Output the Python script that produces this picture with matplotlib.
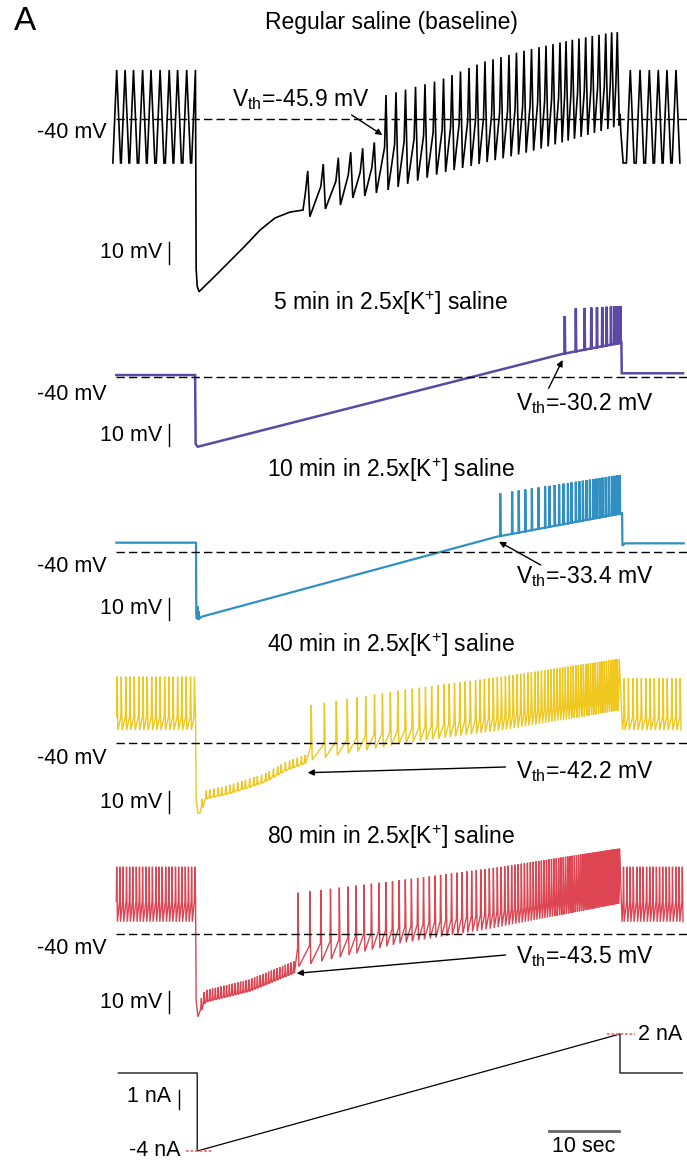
import numpy as np
import matplotlib.pyplot as plt

plt.rcParams['font.family'] = ['Liberation Sans', 'DejaVu Sans']
plt.rcParams['mathtext.fontset'] = 'custom'
plt.rcParams['mathtext.rm'] = 'Liberation Sans'
plt.rcParams['mathtext.it'] = 'Liberation Sans:italic'

W, H = 687, 1162
PX_S = 7.0      # px per second
PX_MV = 2.2     # px per mV
PX_NA = 19.5    # px per nA
X0 = 116        # px of t = 0

# ---------------- trace 1 : regular saline (black) ----------------
t1_pre = [0.1, 1.3, 2.5, 3.8, 5.0, 6.3, 7.6, 8.8, 10.1, 11.35]
t1_pre_pk, t1_pre_tr = -17.7, -60.0
t1_rec_t = [11.45, 11.6, 11.86, 14.14, 16.29, 18.43, 20.57, 22.71, 24.86, 26.71]
t1_rec_v = [-108.0, -116.0, -118.5, -111.4, -104.5, -97.7, -90.5, -85.0, -82.3, -81.4]
t1_osc_t = [27.39, 29.61, 31.76, 33.53, 35.24, 36.9]
t1_osc_pk = [-63.6, -60.5, -57.6, -55.1, -53.3, -50.6]
t1_osc_tr = [-84.4, -80.9, -79.1, -75.9, -75.0, -73.6]
t1_ramp = [38.57, 40.0, 41.36, 42.79, 44.14, 45.5, 46.79, 48.0, 49.21, 50.43,
           51.57, 52.71, 53.86, 55.0, 56.14, 57.21, 58.29, 59.36, 60.43, 61.43,
           62.43, 63.43, 64.29, 65.19, 66.14, 67.1, 68.04, 69.0, 69.96, 70.81, 71.61]
t1_pk_t = [38.57, 46.29, 52.43, 58.71, 65.0, 71.0]
t1_pk_v = [-29.1, -22.3, -14.1, -8.6, -4.1, -0.5]
t1_tr_t = [38.57, 46.29, 58.71, 71.0]
t1_tr_v = [-72.3, -64.5, -55.0, -43.6]
t1_off_t = [71.9, 72.02, 72.1, 72.45]
t1_off_v = [-43.0, -37.7, -45.0, -60.0]
t1_post = [73.47, 74.86, 76.19, 77.47, 78.71, 80.0]

# ---------------- trace 2 : 5 min high K (purple) ----------------
t2_knot_t = [0.05, 11.3, 11.38, 11.69, 63.8]
t2_knot_v = [-39.1, -39.1, -70.5, -71.7, -29.5]
t2_sp = [64.11, 65.69, 66.94, 67.89, 68.71, 69.46, 70.09, 70.71, 71.21, 71.66, 72.05]
t2_pk_t, t2_pk_v = [64.1, 65.7, 72.1], [-12.3, -8.8, -7.7]
t2_base_t, t2_base_v = [63.8, 72.2], [-29.5, -24.4]
t2_off_t, t2_off_v = [72.2, 72.25, 81.0], [-24.4, -38.3, -38.3]

# ---------------- trace 3 : 10 min high K (blue) ----------------
t3_knot_t = [0.05, 11.43, 11.47, 11.55, 11.62, 11.7, 11.8, 11.9, 12.29, 54.39]
t3_knot_v = [-35.9, -35.9, -68.0, -70.6, -64.7, -70.8, -67.0, -70.4, -69.5, -33.2]
t3_sp = [54.89, 56.59, 57.53, 58.47, 59.41, 60.36, 61.3, 61.93, 62.67, 63.3,
         63.93, 64.56, 65.06, 65.69, 66.19, 66.7, 67.2, 67.7, 68.2, 68.64,
         69.09, 69.51, 69.96, 70.4, 70.84, 71.21, 71.59, 71.97]
t3_pk_t, t3_pk_v = [54.9, 72.0], [-13.5, -5.1]
t3_base_t, t3_base_v = [54.39, 72.3], [-33.2, -22.5]
t3_off_t, t3_off_v = [72.3, 72.35, 72.7, 81.1], [-22.5, -37.3, -36.2, -36.2]

# ---------------- trace 4 : 40 min high K (yellow) ----------------
t4_pre = [0.15, 0.75, 1.4, 2.0, 2.6, 3.25, 3.85, 4.45, 5.1, 5.7, 6.3, 6.95,
          7.55, 8.15, 8.8, 9.4, 10.0, 10.65, 11.2]
t4_pre_pk, t4_pre_tr = -9.7, -34.0
t4_step_t, t4_step_v = [11.37, 11.45, 11.7, 12.0], [-28.0, -65.0, -71.8, -71.6]
t4_rec_t = [11.7, 12.0, 12.7, 16.1, 21.1, 24.2, 27.4]
t4_rec_v = [-71.8, -71.6, -65.0, -62.6, -57.5, -52.1, -48.3]
t4_let = [12.3, 12.9, 13.4, 14.0, 14.6, 15.1, 15.7, 16.3, 16.8, 17.4, 18.0, 18.5,
          19.1, 19.7, 20.2, 20.8, 21.4, 21.9, 22.5, 23.1, 23.6, 24.2, 24.8, 25.3,
          25.9, 26.5, 27.0]
t4_let_amp = 3.5
t4_ramp = [27.89, 29.77, 31.47, 33.04, 34.41, 35.67, 36.93, 38.06, 39.19, 40.26,
           41.33, 42.33, 43.33, 44.21, 45.09, 45.97, 46.86, 47.6, 48.36, 49.11,
           49.87, 50.61, 51.37, 52.0, 52.63, 53.26, 53.89, 54.48, 55.06, 55.63,
           56.19, 56.74, 57.28, 57.81, 58.33, 58.84, 59.34, 59.83, 60.31, 60.78,
           61.24, 61.69, 62.13, 62.56, 62.98, 63.39, 63.79, 64.18, 64.57, 64.95,
           65.32, 65.69, 66.05, 66.41, 66.76, 67.11, 67.45, 67.79, 68.13, 68.46,
           68.79, 69.11, 69.43, 69.75, 70.06, 70.37, 70.68, 70.98, 71.28, 71.58,
           71.88]
t4_pk_t, t4_pk_v = [27.83, 40.86, 55.14, 72.3], [-22.6, -15.8, -9.7, -1.4]
t4_tr_t, t4_tr_v = [27.83, 40.86, 55.14, 72.0], [-47.6, -40.0, -34.0, -24.9]
t4_off_t, t4_off_v = [72.25, 72.35], [-26.0, -34.0]
t4_post = [72.6, 73.2, 73.85, 74.45, 75.05, 75.7, 76.3, 76.9, 77.55, 78.15,
           78.75, 79.4, 80.0, 80.6]
t4_post_pk = -10.5

# ---------------- trace 5 : 80 min high K (red) ----------------
t5_pre = [0.1, 0.55, 1.0, 1.5, 1.95, 2.4, 2.9, 3.35, 3.8, 4.3, 4.75, 5.2, 5.7,
          6.15, 6.6, 7.1, 7.55, 8.0, 8.5, 8.95, 9.4, 9.9, 10.35, 10.8, 11.25]
t5_pre_pk, t5_pre_tr = -9.3, -34.3
t5_step_t, t5_step_v = [11.37, 11.45, 11.7], [-25.0, -70.0, -77.5]
t5_rec_t = [11.7, 12.7, 19.1, 26.0]
t5_rec_v = [-77.5, -70.5, -65.5, -56.5]
t5_let = [12.2, 12.6, 13.0, 13.4, 13.8, 14.2, 14.6, 15.0, 15.4, 15.8, 16.2, 16.6,
          17.0, 17.4, 17.8, 18.2, 18.6, 19.0, 19.4, 19.8, 20.2, 20.6, 21.0, 21.4,
          21.8, 22.2, 22.6, 23.0, 23.4, 23.8, 24.2, 24.6, 25.0, 25.4]
t5_let_amp = 5.0
t5_ramp = [26.0, 27.7, 29.27, 30.64, 31.9, 33.16, 34.29, 35.43, 36.49, 37.56,
           38.56, 39.5, 40.44, 41.33, 42.2, 43.09, 43.93, 44.76, 45.57, 46.37,
           47.16, 47.93, 48.69, 49.43, 50.13, 50.81, 51.47, 52.11, 52.73, 53.33,
           53.91, 54.47, 55.01, 55.53, 56.03, 56.52, 56.99, 57.45, 57.9, 58.34,
           58.77, 59.19, 59.6, 60.0, 60.39, 60.77, 61.14, 61.5, 61.86, 62.21,
           62.56, 62.9, 63.24, 63.57, 63.9, 64.22, 64.54, 64.86, 65.17, 65.48,
           65.79, 66.09, 66.39, 66.69, 66.98, 67.27, 67.56, 67.85, 68.13, 68.41,
           68.69, 68.97, 69.25, 69.52, 69.79, 70.06, 70.33, 70.6, 70.87, 71.14,
           71.41, 71.68, 71.95]
t5_pk_t, t5_pk_v = [26.0, 40.86, 55.1, 72.0], [-21.1, -15.3, -9.3, -0.9]
t5_tr_t, t5_tr_v = [26.0, 40.6, 52.4, 72.0], [-54.7, -44.0, -38.0, -25.9]
t5_off_t, t5_off_v = [72.2, 72.3], [-26.0, -34.3]
t5_post = [72.5, 73.0, 73.45, 73.9, 74.4, 74.85, 75.3, 75.8, 76.25, 76.7, 77.2,
           77.65, 78.1, 78.6, 79.05, 79.5, 80.0, 80.45, 80.9]

# ---------------- injected current (nA) ----------------
cur_t = [0.33, 11.6, 11.6, 72.0, 72.0, 80.9]
cur_v = [0.0, 0.0, -4.0, 2.0, 0.0, 0.0]

titles = ['Regular saline (baseline)', '5 min in 2.5x[K$^{+}$] saline',
          '10 min in 2.5x[K$^{+}$] saline', '40 min in 2.5x[K$^{+}$] saline',
          '80 min in 2.5x[K$^{+}$] saline']
vth = [-45.9, -30.2, -33.4, -42.2, -43.5]
colors = ['#000000', '#5a4aa6', '#3190c2', '#efc71e', '#dc4551']
widths = [1.2, 1.8, 1.6, 1.0, 1.0]


def train(times, pk, tr, rise, fall, thr):
    ts, vs = [], []
    for t, p, q in zip(times, pk, tr):
        ts += [t - rise, t, t + fall]
        vs += [q + thr * (p - q), p, q]
    return ts, vs


def lets(times, rec_t, rec_v, amp):
    base = np.interp(times, rec_t, rec_v)
    ts, vs = [], []
    for t, b in zip(times, base):
        ts += [t - 0.1, t, t + 0.08]
        vs += [b, b + amp, b - 0.5]
    return ts, vs


def join(*parts):
    ts, vs = [], []
    for a, b in parts:
        ts += list(a)
        vs += list(b)
    return np.array(ts), np.array(vs)


def cut(part):
    return part[0][:-1], part[1][:-1]


n = len
tr1 = join(cut(train(t1_pre, [t1_pre_pk] * n(t1_pre), [t1_pre_tr] * n(t1_pre), 0.55, 0.55, 0.0)),
           (t1_rec_t, t1_rec_v),
           train(t1_osc_t, t1_osc_pk, t1_osc_tr, 0.35, 0.3, 0.5),
           cut(train(t1_ramp, np.interp(t1_ramp, t1_pk_t, t1_pk_v),
                     np.interp(t1_ramp, t1_tr_t, t1_tr_v), 0.2, 0.3, 0.45)),
           (t1_off_t, t1_off_v),
           train(t1_post, [t1_pre_pk] * n(t1_post), [t1_pre_tr] * n(t1_post), 0.55, 0.55, 0.0))

tr2 = join((t2_knot_t, t2_knot_v),
           train(t2_sp, np.interp(t2_sp, t2_pk_t, t2_pk_v),
                 np.interp(t2_sp, t2_base_t, t2_base_v), 0.04, 0.06, 0.0),
           (t2_off_t, t2_off_v))

tr3 = join((t3_knot_t, t3_knot_v),
           train(t3_sp, np.interp(t3_sp, t3_pk_t, t3_pk_v),
                 np.interp(t3_sp, t3_base_t, t3_base_v), 0.03, 0.06, 0.0),
           (t3_off_t, t3_off_v))

tr4 = join(cut(train(t4_pre, [t4_pre_pk] * n(t4_pre), [t4_pre_tr] * n(t4_pre), 0.06, 0.12, 0.25)),
           (t4_step_t, t4_step_v),
           lets(t4_let, t4_rec_t, t4_rec_v, t4_let_amp),
           cut(train(t4_ramp, np.interp(t4_ramp, t4_pk_t, t4_pk_v),
                     np.interp(t4_ramp, t4_tr_t, t4_tr_v), 0.07, 0.14, 0.25)),
           (t4_off_t, t4_off_v),
           train(t4_post, [t4_post_pk] * n(t4_post), [t4_pre_tr] * n(t4_post), 0.06, 0.12, 0.25))

tr5 = join(cut(train(t5_pre, [t5_pre_pk] * n(t5_pre), [t5_pre_tr] * n(t5_pre), 0.05, 0.1, 0.37)),
           (t5_step_t, t5_step_v),
           lets(t5_let, t5_rec_t, t5_rec_v, t5_let_amp),
           cut(train(t5_ramp, np.interp(t5_ramp, t5_pk_t, t5_pk_v),
                     np.interp(t5_ramp, t5_tr_t, t5_tr_v), 0.06, 0.12, 0.25)),
           (t5_off_t, t5_off_v),
           train(t5_post, [t5_pre_pk] * n(t5_post), [t5_pre_tr] * n(t5_post), 0.05, 0.1, 0.37))

traces = [tr1, tr2, tr3, tr4, tr5]

# ---------------- layout (pixels of the 687x1162 image) ----------------
y40 = [119, 377, 551.7, 743.3, 934.3]          # row of the -40 mV line
lab40_y = [133, 394, 566.7, 758.3, 948.3]
title_y = [23, 303.3, 470, 645, 836.7]
bar_bot = [-105.9, -71.4, -71.0, -71.8, -75.9]  # bottom of the 10 mV bar (mV)
vth_xy = [(301, 100), (584.6, 403.3), (584.6, 576.7), (584.6, 771.7), (584.6, 956.7)]
arrows = [((351.6, 115), (382.4, 135)), ((548.6, 388.3), (562.6, 360)),
          ((540.7, 565), (499, 541.7)), ((505.5, 767), (307.7, 772.7)),
          ((505.5, 955), (296.7, 973.3))]


def fx(x):
    return x / W


def fy(y):
    return 1 - y / H


fig = plt.figure(figsize=(W / 100, H / 100), dpi=100)
xlim = (-X0 / PX_S, (W - X0) / PX_S)
fs = 15.5

for k in range(5):
    ax = fig.add_axes([0, 0, 1, 1])
    ax.set_xlim(*xlim)
    ax.set_ylim(-40 - (H - y40[k]) / PX_MV, -40 + y40[k] / PX_MV)
    ax.axis('off')
    ax.patch.set_alpha(0)
    t, v = traces[k]
    ax.plot(t, v, color=colors[k], lw=widths[k], solid_joinstyle='miter', zorder=2)
    ax.plot([0, xlim[1]], [-40, -40], color='k', lw=1.0, ls=(0, (6, 3)), zorder=3)
    ax.plot([7.5, 7.5], [bar_bot[k], bar_bot[k] + 10], color='k', lw=1.0)
    ax.text(6.6, bar_bot[k] + 5, '10 mV', ha='right', va='center', fontsize=fs)
    fig.text(fx(72), fy(lab40_y[k]), '-40 mV', ha='center', va='center', fontsize=fs)
    fig.text(fx(391), fy(title_y[k]), titles[k], ha='center', va='center', fontsize=16.5)
    fig.text(fx(vth_xy[k][0]), fy(vth_xy[k][1]), 'V$_{\\mathrm{th}}$=%.1f mV' % vth[k],
             ha='center', va='center', fontsize=16.5)
    (x0, y0), (x1, y1) = arrows[k]
    ax.annotate('', xy=(fx(x1), fy(y1)), xytext=(fx(x0), fy(y0)),
                xycoords='figure fraction', textcoords='figure fraction',
                arrowprops=dict(arrowstyle='-|>', color='k', lw=1.0,
                                mutation_scale=9, shrinkA=0, shrinkB=0))

# current trace
ax = fig.add_axes([0, 0, 1, 1])
ax.set_xlim(*xlim)
ax.set_ylim(-(H - 1073) / PX_NA, 1073 / PX_NA)
ax.axis('off')
ax.patch.set_alpha(0)
ax.plot(cur_t, cur_v, color='k', lw=0.9)
ax.plot([10.0, 13.9], [-4, -4], color='#f07070', lw=1.3, ls=(0, (1.5, 1)))
ax.plot([70.1, 74.1], [2, 2], color='#f07070', lw=1.3, ls=(0, (1.5, 1)))
ax.plot([8.96, 8.96], [-0.87, -1.87], color='k', lw=1.0)
ax.text(7.9, -1.23, '1 nA', ha='right', va='center', fontsize=fs)
ax.text(9.2, -4, '-4 nA', ha='right', va='center', fontsize=fs)
ax.text(74.6, 2, '2 nA', ha='left', va='center', fontsize=fs)
ax.plot([61.86, 71.86], [-2.96, -2.96], color='#666666', lw=2.0)
ax.text(66.86, -3.78, '10 sec', ha='center', va='center', fontsize=fs)

fig.text(fx(25), fy(21), 'A', ha='center', va='center', fontsize=24)

fig.savefig('out.png', dpi=100)
